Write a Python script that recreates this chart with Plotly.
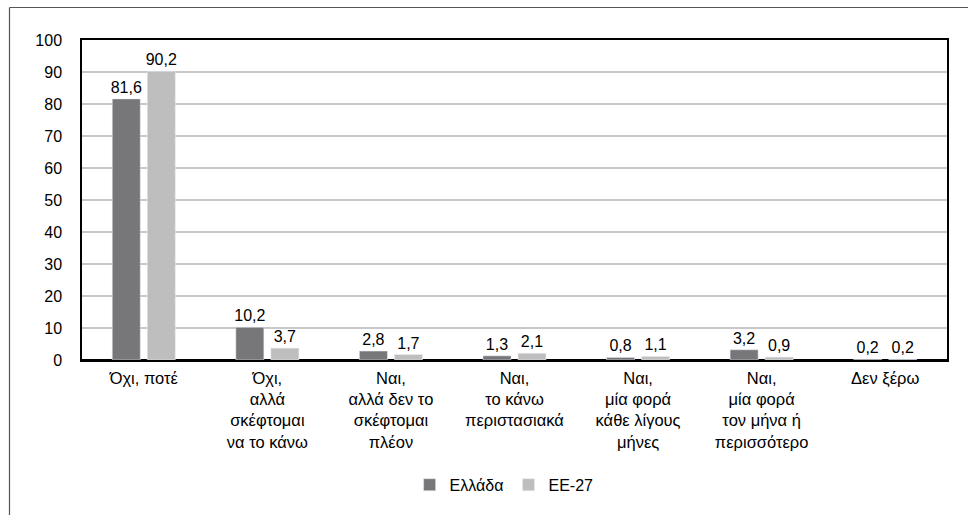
import plotly.graph_objects as go

categories = [
    "Όχι, ποτέ",
    "Όχι,<br>αλλά<br>σκέφτομαι<br>να το κάνω",
    "Ναι,<br>αλλά δεν το<br>σκέφτομαι<br>πλέον",
    "Ναι,<br>το κάνω<br>περιστασιακά",
    "Ναι,<br>μία φορά<br>κάθε λίγους<br>μήνες",
    "Ναι,<br>μία φορά<br>τον μήνα ή<br>περισσότερο",
    "Δεν ξέρω",
]
greece = [81.6, 10.2, 2.8, 1.3, 0.8, 3.2, 0.2]
eu27 = [90.2, 3.7, 1.7, 2.1, 1.1, 0.9, 0.2]
y_ticks = list(range(0, 101, 10))

FONT = "Arial, Liberation Sans, sans-serif"
W, H = 969, 515
L, R, T, B = 82, 22, 40, 155

fig = go.Figure()
fig.add_trace(go.Bar(
    name="Ελλάδα", x=categories, y=greece, marker_color="#77777a",
    texttemplate="%{y:.1f}", textposition="outside", cliponaxis=False,
    constraintext="none", textfont=dict(size=16, color="#000"),
))
fig.add_trace(go.Bar(
    name="ΕΕ-27", x=categories, y=eu27, marker_color="#bebebe",
    texttemplate="%{y:.1f}", textposition="outside", cliponaxis=False,
    constraintext="none", textfont=dict(size=16, color="#000"),
))

# outer frame around the whole figure (left and top edges inside the page)
pw, ph = W - L - R, H - T - B
def px_x(x):
    return (x - L) / pw
def px_y(y):
    return (H - B - y) / ph

fig.add_shape(type="line", xref="paper", yref="paper",
              x0=px_x(9.5), x1=px_x(968), y0=px_y(7.5), y1=px_y(7.5),
              line=dict(color="#555", width=1.2))
fig.add_shape(type="line", xref="paper", yref="paper",
              x0=px_x(9.5), x1=px_x(9.5), y0=px_y(7.5), y1=px_y(520),
              line=dict(color="#555", width=1.2))

fig.update_layout(
    width=W, height=H,
    margin=dict(l=L, r=R, t=T, b=B, pad=0),
    paper_bgcolor="white", plot_bgcolor="white",
    separators=",.",
    barmode="group", bargap=0.433, bargroupgap=0.2,
    uniformtext=dict(mode=False),
    font=dict(family=FONT, size=16, color="#000"),
    showlegend=True,
    legend=dict(orientation="h", x=0.488, xanchor="center", y=-0.39, yanchor="middle",
                font=dict(size=16), itemwidth=30, traceorder="normal"),
    xaxis=dict(showline=True, linecolor="black", linewidth=1.5, mirror=True,
               ticks="", tickfont=dict(size=16.5), ticklabelstandoff=2),
    yaxis=dict(range=[0, 100], tickvals=y_ticks, showgrid=True, gridcolor="#c8c8c8",
               gridwidth=1.5, showline=True, linecolor="black", linewidth=1.5,
               mirror=True, ticks="", ticklabelstandoff=15, tickfont=dict(size=16),
               zeroline=True, zerolinecolor="black", zerolinewidth=2),
)

fig.write_html("out.html")
